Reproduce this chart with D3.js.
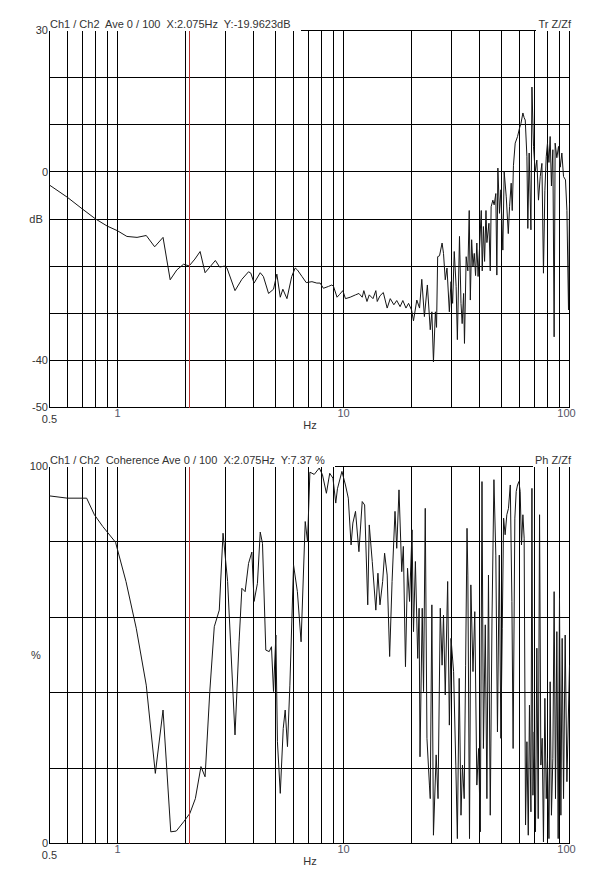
<!DOCTYPE html>
<html>
<head>
<meta charset="utf-8">
<script src="https://cdn.jsdelivr.net/npm/d3@7"></script>
<style>
  body { margin: 0; background: #fff; }
  text { font-family: "Liberation Sans", Arial, sans-serif; font-size: 11px; fill: #333; white-space: pre; }
</style>
</head>
<body>
<div id="chart"></div>
<script>
// chart size
const width = 589
const height = 887

// frequency grid (log decades) and labelled ticks
const gridFreqs = [0.6, 0.7, 0.8, 0.9, 1, 2, 3, 4, 5, 6, 7, 8, 9, 10, 20, 30, 40, 50, 60, 70, 80, 90, 100]
const freqLabels = ["0.5", "1", "10", "100"]
const cursorHz = 2.075

// top panel: transfer function, dB
const dbGrid = [30, 20, 10, 0, -10, -20, -30, -40, -50]
const dbLabels = [[30, "30"], [0, "0"], [-10, "dB"], [-40, "-40"], [-50, "-50"]]
const transferData = [
  [0.5,-2.8],[0.6,-5.4],[0.7,-7.9],[0.8,-10.0],[0.9,-11.5],[1.0,-12.5],[1.1,-13.7],[1.22,-13.9],[1.34,-13.5],
  [1.46,-15.9],[1.59,-13.9],[1.71,-22.9],[1.83,-20.8],[1.96,-19.6],[2.075,-19.96],[2.2,-18.5],[2.32,-16.9],
  [2.44,-21.4],[2.71,-18.8],[2.83,-20.2],[2.97,-20.0],[3.05,-20.4],[3.31,-25.2],[3.55,-22.8],[3.80,-21.2],
  [3.89,-21.5],[4.02,-23.6],[4.28,-21.4],[4.42,-22.2],[4.66,-25.8],[4.90,-24.9],[5.07,-21.7],[5.25,-26.6],
  [5.39,-24.9],[5.62,-26.9],[5.90,-22.2],[6.11,-20.4],[6.25,-20.8],[6.55,-22.2],[6.84,-23.5],[7.25,-23.3],
  [7.62,-23.6],[7.88,-23.6],[8.15,-24.7],[8.59,-24.3],[8.88,-24.0],[9.03,-24.3],[9.36,-26.6],[9.61,-26.0],
  [9.93,-25.2],[10.2,-26.9],[10.7,-26.6],[11.3,-26.1],[11.7,-25.8],[12.1,-26.6],[12.3,-25.2],[12.7,-27.5],
  [13.0,-26.1],[13.5,-26.9],[13.9,-25.2],[14.1,-27.5],[14.5,-26.3],[15.0,-25.6],[15.6,-28.9],[16.1,-26.9],
  [16.7,-28.2],[17.2,-27.3],[17.8,-28.6],[18.3,-27.3],[18.9,-28.9],[19.4,-27.9],[20.0,-29.3],[20.4,-31.6],
  [21.1,-27.2],[21.7,-28.9],[22.2,-22.8],[22.8,-30.7],[23.5,-24.0],[24.2,-33.5],[24.6,-29.7],[25.0,-40.3],
  [25.5,-29.7],[25.8,-33.0],[26.1,-18.0],[26.6,-17.8],[27.3,-15.1],[27.7,-17.3],[28.2,-22.9],[28.7,-20.4],
  [29.4,-29.7],[29.9,-23.3],[30.4,-27.9],[30.9,-16.9],[31.5,-24.3],[31.9,-35.6],[32.6,-13.7],[33.1,-27.9],
  [33.5,-32.2],[34.0,-25.8],[34.3,-36.4],[34.9,-18.0],[35.5,-21.0],[36.0,-8.2],[36.4,-27.2],[36.9,-14.4],
  [37.4,-20.0],[37.9,-17.3],[38.4,-22.0],[38.9,-15.1],[39.4,-22.2],[40.0,-16.0],[40.7,-8.2],[41.1,-21.0],
  [41.6,-11.6],[42.1,-19.0],[42.7,-8.2],[43.1,-15.0],[44.0,-10.9],[44.6,-21.0],[45.0,-7.4],[45.8,-6.0],
  [46.4,-7.0],[47.2,-4.6],[47.7,-21.9],[48.2,0.8],[49.0,-8.8],[49.7,-3.8],[50.7,-16.6],[51.4,0.0],
  [52.5,-5.3],[53.6,-13.1],[54.3,-7.4],[55.2,-2.4],[55.8,-8.2],[56.5,1.4],[57.5,6.1],[58.9,7.5],[60.1,9.3],
  [61.0,10.3],[62.2,12.5],[63.0,11.5],[63.7,11.0],[64.8,3.2],[65.4,-12.0],[66.3,4.0],[67.5,-12.3],[68.2,18.0],
  [69.3,5.4],[70.5,0.0],[71.7,2.5],[72.9,-6.0],[74.2,-1.0],[75.5,1.8],[76.7,-21.5],[77.8,-4.0],[78.9,3.2],
  [79.9,6.1],[81.1,2.0],[82.1,7.5],[83.2,-3.0],[84.4,4.7],[85.5,-35.0],[86.4,6.1],[87.9,3.0],[89.4,5.4],
  [91.0,1.0],[92.5,4.0],[94.1,-1.0],[96.0,-1.7],[97.4,-8.2],[99.0,-29.3],[100,-6.6]
]

// bottom panel: coherence, %
const pctGrid = [100, 80, 60, 40, 20, 0]
const pctLabels = [[100, "100"], [50, "%"], [0, "0"]]
const coherenceData = [
  [0.5,92.2],[0.6,91.6],[0.73,91.6],[0.79,87.2],[0.86,84.1],[0.98,79.9],[1.09,69.5],[1.21,57.1],[1.34,42.0],
  [1.47,18.6],[1.59,35.4],[1.72,3.1],[1.82,3.3],[1.97,5.9],[2.09,8.0],[2.21,11.9],[2.34,20.4],[2.44,17.7],
  [2.56,40.3],[2.68,57.5],[2.82,61.9],[2.93,82.3],[3.07,69.5],[3.31,28.8],[3.45,53.5],[3.55,67.7],[3.67,66.8],
  [3.80,74.3],[3.93,77.3],[4.02,64.2],[4.16,69.0],[4.28,82.6],[4.38,79.6],[4.53,51.3],[4.69,50.9],[4.80,52.2],
  [4.90,40.3],[5.02,55.3],[5.10,27.0],[5.25,13.3],[5.41,30.5],[5.52,35.4],[5.65,25.7],[5.79,42.0],[6.01,73.9],
  [6.25,66.8],[6.49,53.5],[6.77,85.4],[6.93,80.1],[7.10,98.5],[7.42,97.9],[7.81,99.6],[8.07,97.8],[8.40,92.9],
  [8.69,98.2],[8.98,96.9],[9.24,90.3],[9.40,94.1],[9.84,98.7],[10.2,95.1],[10.5,91.6],[10.8,79.2],[11.0,85.0],
  [11.3,88.1],[11.7,77.4],[12.1,90.7],[12.4,89.8],[12.8,63.3],[13.0,84.5],[13.4,74.8],[13.9,61.9],[14.2,71.7],
  [14.5,63.3],[14.9,69.5],[15.2,77.0],[15.6,71.2],[16.0,49.6],[16.4,69.5],[16.9,88.1],[17.2,78.3],[17.6,93.8],
  [18.1,72.1],[18.4,78.8],[18.8,46.9],[19.2,73.0],[19.6,64.2],[20.1,83.2],[20.4,56.2],[20.8,74.8],[21.3,49.1],
  [21.6,62.4],[21.8,23.0],[22.3,62.4],[22.6,40.3],[23.0,88.9],[23.4,27.9],[24.0,15.5],[24.2,11.9],[24.6,63.3],
  [25.0,2.2],[25.7,23.5],[26.2,11.9],[26.8,62.4],[27.3,47.3],[27.7,60.6],[28.2,39.4],[28.9,69.5],[29.4,31.4],
  [29.9,54.4],[30.7,45.6],[31.4,20.8],[31.9,1.3],[32.5,43.8],[33.1,7.5],[33.6,20.8],[34.2,11.9],[34.7,47.3],
  [35.2,83.6],[35.5,71.2],[36.1,1.3],[36.6,68.6],[37.4,45.6],[38.1,61.5],[38.9,15.5],[39.6,25.2],[40.3,3.1],
  [41.0,96.0],[41.6,25.2],[42.4,58.0],[43.1,11.9],[43.8,71.2],[44.6,7.5],[45.4,59.7],[46.3,96.5],[47.2,76.5],
  [48.0,29.6],[48.9,76.5],[49.7,27.9],[50.4,57.1],[51.1,86.3],[51.9,81.9],[52.8,87.2],[53.7,88.9],[54.7,95.1],
  [55.6,64.2],[56.3,25.2],[57.3,86.3],[58.1,93.4],[58.9,95.1],[59.7,96.0],[60.5,93.4],[61.3,79.2],[62.2,87.2],
  [63.0,81.0],[63.9,4.9],[64.8,27.0],[65.7,2.2],[66.5,36.7],[67.5,8.4],[68.2,94.2],[68.9,12.8],[69.8,29.6],
  [70.7,3.1],[71.7,51.8],[72.7,6.6],[73.7,87.2],[74.7,20.8],[75.7,27.9],[76.7,0.4],[77.8,38.5],[78.9,11.9],
  [79.9,22.6],[81.1,1.3],[82.1,42.9],[83.2,7.5],[84.4,22.6],[85.5,66.8],[86.7,11.9],[87.9,56.2],[89.1,1.3],
  [90.3,65.0],[91.6,7.5],[92.8,54.4],[94.1,11.9],[95.7,55.3],[97.4,16.4],[100,47.3]
]

var svg = d3.select("#chart")
  .append("svg")
  .attr("width", width)
  .attr("height", height)

// shared log frequency scale
var x = d3.scaleLog()
  .domain([0.5, 100])
  .range([49.5, 569.5])

function drawPanel(opt) {
  var y = d3.scaleLinear().domain(opt.domain).range([opt.bottom, opt.top])
  var g = svg.append("g")

  // horizontal grid (skip the top one, drawn as a broken border below)
  g.selectAll(".hgrid")
    .data(opt.grid.filter(function(v){ return v != opt.domain[1] }))
    .enter().append("line")
      .attr("x1", x(0.5)).attr("x2", x(100))
      .attr("y1", function(d){ return y(d) }).attr("y2", function(d){ return y(d) })
      .attr("stroke", "#000").attr("shape-rendering", "crispEdges")

  // vertical grid + left border
  g.selectAll(".vgrid")
    .data([0.5].concat(gridFreqs))
    .enter().append("line")
      .attr("x1", function(d){ return x(d) }).attr("x2", function(d){ return x(d) })
      .attr("y1", opt.top).attr("y2", opt.bottom)
      .attr("stroke", "#000").attr("shape-rendering", "crispEdges")

  // titles
  var title = g.append("text")
    .attr("x", x(0.5) + 0.5).attr("y", opt.top - 3)
    .text(opt.title)
  var right = g.append("text")
    .attr("x", x(100) + 1.5).attr("y", opt.top - 3)
    .attr("text-anchor", "end")
    .text(opt.rightTitle)
  var tEnd = x(0.5) + title.node().getComputedTextLength() + 11
  var rStart = x(100) + 1.5 - right.node().getComputedTextLength() - 2
  g.append("line")
    .attr("x1", tEnd).attr("x2", rStart)
    .attr("y1", opt.top).attr("y2", opt.top)
    .attr("stroke", "#000").attr("shape-rendering", "crispEdges")

  // y labels
  g.selectAll(".ylab")
    .data(opt.labels)
    .enter().append("text")
      .attr("x", function(d){ return d[1] == "dB" || d[1] == "%" ? 36 : 48 })
      .attr("y", function(d){ return y(d[0]) })
      .attr("dy", "0.35em")
      .attr("text-anchor", function(d){ return d[1] == "dB" || d[1] == "%" ? "middle" : "end" })
      .text(function(d){ return d[1] })

  // x labels, the 0.5 one sits a bit lower
  g.selectAll(".xlab")
    .data(freqLabels)
    .enter().append("text")
      .attr("x", function(d){ return x(+d) - (d == "100" ? 3 : 0) })
      .attr("y", function(d){ return opt.bottom + (d == "0.5" ? 15.5 : 9) })
      .attr("text-anchor", "middle")
      .style("fill", function(d){ return d == "0.5" ? "#333" : "#556" })
      .text(function(d){ return d })
  g.append("text")
    .attr("x", 310).attr("y", opt.bottom + 21)
    .attr("text-anchor", "middle")
    .text("Hz")

  // data curve
  var line = d3.line()
    .x(function(d){ return x(d[0]) })
    .y(function(d){ return y(d[1]) })
  g.append("path")
    .datum(opt.data)
    .attr("d", line)
    .attr("fill", "none")
    .attr("stroke", "#151515")
    .attr("stroke-width", 1)

  // cursor
  g.append("line")
    .attr("x1", Math.round(x(cursorHz)) + 0.5).attr("x2", Math.round(x(cursorHz)) + 0.5)
    .attr("y1", opt.top).attr("y2", opt.bottom)
    .attr("stroke", "#b8312f").attr("shape-rendering", "crispEdges")
}

drawPanel({
  domain: [-50, 30], top: 30.5, bottom: 407.5,
  grid: dbGrid, labels: dbLabels, data: transferData,
  title: "Ch1 / Ch2  Ave 0 / 100  X:2.075Hz  Y:-19.9623dB",
  rightTitle: "Tr Z/Zf"
})

drawPanel({
  domain: [0, 100], top: 466.5, bottom: 843.5,
  grid: pctGrid, labels: pctLabels, data: coherenceData,
  title: "Ch1 / Ch2  Coherence Ave 0 / 100  X:2.075Hz  Y:7.37 %",
  rightTitle: "Ph Z/Zf"
})
</script>
</body>
</html>
